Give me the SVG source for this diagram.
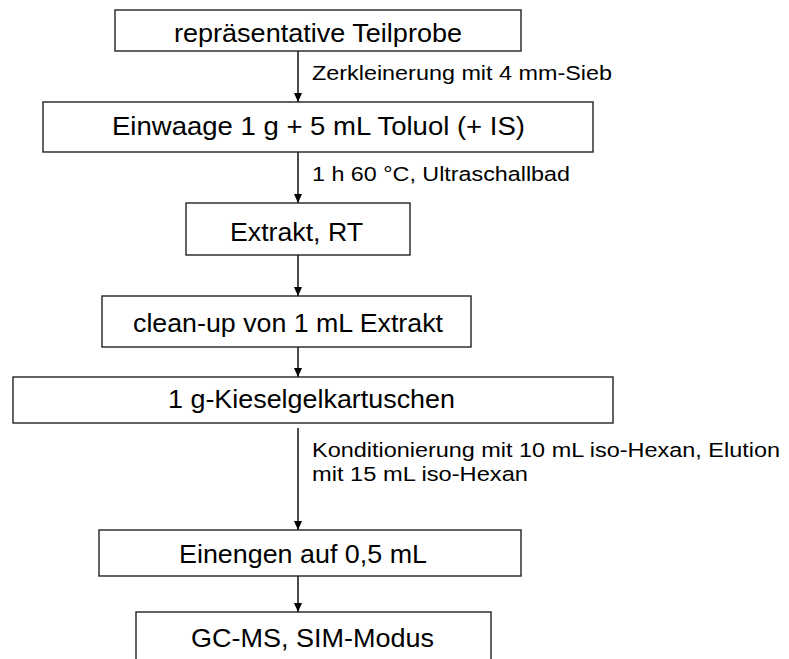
<svg xmlns="http://www.w3.org/2000/svg" width="789" height="659" viewBox="0 0 789 659">
  <style>
    .box { fill: #ffffff; stroke: #222222; stroke-width: 1.4; }
    .big { font-family: "Liberation Sans", Arial, sans-serif; font-size: 25.5px; fill: #000000; }
    .small { font-family: "Liberation Sans", Arial, sans-serif; font-size: 20.5px; fill: #000000; }
    .conn { stroke: #000000; stroke-width: 1.4; fill: none; marker-end: url(#head); }
  </style>
  <defs>
    <!-- filled triangular arrowhead, tip on the end of the line -->
    <marker id="head" viewBox="0 0 9 8" refX="9" refY="4" markerWidth="9" markerHeight="8" markerUnits="userSpaceOnUse" orient="auto">
      <path d="M0,0 L9,4 L0,8 Z" fill="#000000"/>
    </marker>
  </defs>
  <rect width="789" height="659" fill="#ffffff"/>

  <g id="connectors">
    <line class="conn" x1="298" y1="51" x2="298" y2="102"/>
    <line class="conn" x1="298" y1="152" x2="298" y2="203"/>
    <line class="conn" x1="298" y1="255" x2="298" y2="296"/>
    <line class="conn" x1="298" y1="347" x2="298" y2="377"/>
    <line class="conn" x1="298" y1="428" x2="298" y2="530"/>
    <line class="conn" x1="298" y1="576" x2="298" y2="612"/>
    <text class="small" x="312" y="80" textLength="300" lengthAdjust="spacingAndGlyphs">Zerkleinerung mit 4 mm-Sieb</text>
    <text class="small" x="312" y="181" textLength="258" lengthAdjust="spacingAndGlyphs">1 h 60 °C, Ultraschallbad</text>
    <text class="small" x="312" y="457" textLength="468" lengthAdjust="spacingAndGlyphs">Konditionierung mit 10 mL iso-Hexan, Elution</text>
    <text class="small" x="312" y="481" textLength="216" lengthAdjust="spacingAndGlyphs">mit 15 mL iso-Hexan</text>
  </g>

  <g id="teilprobe">
    <rect class="box" x="115" y="10" width="406" height="41"/>
    <text class="big" x="174" y="41.5" textLength="288" lengthAdjust="spacingAndGlyphs">repräsentative Teilprobe</text>
  </g>

  <g id="einwaage">
    <rect class="box" x="43" y="102" width="550" height="50"/>
    <text class="big" x="112" y="135" textLength="413" lengthAdjust="spacingAndGlyphs">Einwaage 1 g + 5 mL Toluol (+ IS)</text>
  </g>

  <g id="extrakt">
    <rect class="box" x="186" y="203" width="224" height="52"/>
    <text class="big" x="230" y="240.5" textLength="133" lengthAdjust="spacingAndGlyphs">Extrakt, RT</text>
  </g>

  <g id="cleanup">
    <rect class="box" x="102" y="296" width="369" height="51"/>
    <text class="big" x="133" y="331.5" textLength="310" lengthAdjust="spacingAndGlyphs">clean-up von 1 mL Extrakt</text>
  </g>

  <g id="kartuschen">
    <rect class="box" x="13" y="377" width="600" height="46"/>
    <text class="big" x="168" y="408" textLength="287" lengthAdjust="spacingAndGlyphs">1 g-Kieselgelkartuschen</text>
  </g>

  <g id="einengen">
    <rect class="box" x="99" y="530" width="422" height="46"/>
    <text class="big" x="179" y="563" textLength="248" lengthAdjust="spacingAndGlyphs">Einengen auf 0,5 mL</text>
  </g>

  <g id="gcms">
    <rect class="box" x="136" y="612" width="355" height="60"/>
    <text class="big" x="191" y="646.5" textLength="243" lengthAdjust="spacingAndGlyphs">GC-MS, SIM-Modus</text>
  </g>
</svg>
